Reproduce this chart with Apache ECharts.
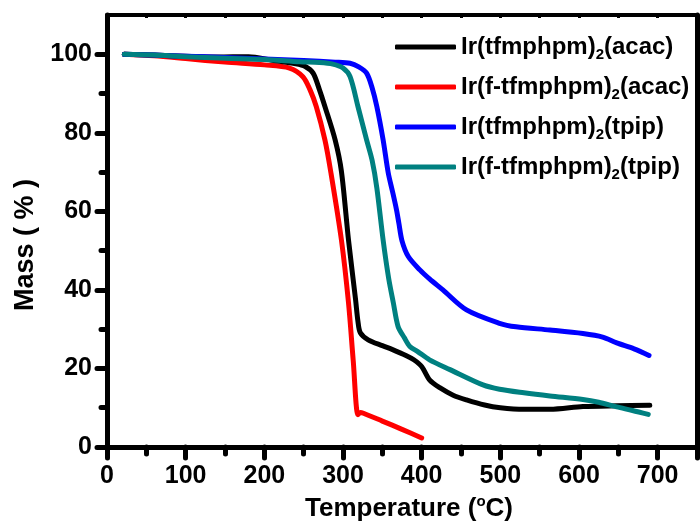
<!DOCTYPE html>
<html>
<head>
<meta charset="utf-8">
<script src="https://cdn.jsdelivr.net/npm/echarts@6/dist/echarts.min.js"></script>
<style>html,body{margin:0;padding:0;background:#fff}#c{width:700px;height:526px}</style>
</head>
<body>
<div id="c"></div>
<script>
// ---- data ----
const seriesNames = ['Ir(tfmphpm)2(acac)', 'Ir(f-tfmphpm)2(acac)', 'Ir(tfmphpm)2(tpip)', 'Ir(f-tfmphpm)2(tpip)'];
const xLabelTicks = [0, 100, 200, 300, 400, 500, 600, 700];
const xMajorTicks = [0, 100, 200, 300, 400, 500, 600, 700, 750];
const xMinorTicks = [50, 150, 250, 350, 450, 550, 650];
const yLabelTicks = [0, 20, 40, 60, 80, 100];
const yMinorTicks = [10, 30, 50, 70, 90];

const tempA = [22, 60, 100, 140, 180, 210, 240, 252, 262, 270, 277, 290, 298, 307, 316, 319, 322, 332, 350, 363, 380, 390, 400, 410, 423, 440, 457, 480, 500, 530, 563, 605, 648, 690];
const massA = [100, 99.8, 99.5, 99.3, 99.4, 98.5, 97.6, 96.9, 95.2, 91, 86.7, 78.2, 70.2, 52.7, 37.5, 32, 29.1, 27.3, 25.8, 24.8, 23.3, 22.2, 20.5, 17.1, 15.1, 13.2, 12, 10.7, 10, 9.6, 9.6, 10.3, 10.5, 10.6];

const tempB = [22, 60, 100, 150, 200, 232, 249, 258, 266, 277, 284.5, 298, 307, 313, 319, 322, 326, 350, 375, 400];
const massB = [100, 99.6, 98.9, 98, 97.3, 96.5, 94.3, 91, 86.7, 78.2, 70, 52.7, 36.7, 22, 8.2, 8.8, 8.6, 6.6, 4.5, 2.3];

const tempC = [22, 60, 100, 150, 200, 250, 290, 309, 320, 330, 337, 343, 351, 357.5, 363, 368, 371, 375, 383, 397.7, 410, 427, 457, 499, 520, 563, 605, 630, 648, 670, 689];
const massC = [100, 99.8, 99.5, 99.2, 98.8, 98.4, 98, 97.7, 96.8, 95.2, 91.5, 86.7, 78.2, 69.8, 65, 60.4, 57, 52.5, 48.5, 45.1, 42.8, 40, 34.9, 31.5, 30.6, 29.8, 28.9, 28, 26.5, 25, 23.3];

const tempD = [22, 60, 100, 150, 200, 245, 270, 287, 300, 309, 319, 330, 337, 343, 351, 358, 364, 370, 378, 385, 395, 410, 436, 478, 499, 530, 563, 605, 625, 648, 668, 688];
const massD = [100, 99.8, 99.4, 99, 98.7, 98.1, 97.9, 97.5, 96.5, 94.3, 86.7, 78.2, 73, 66, 52.7, 43, 36.7, 30.7, 27.8, 25.6, 24.3, 22.2, 19.7, 15.8, 14.7, 13.8, 13, 12.1, 11.4, 10.2, 9.3, 8.3];

const colors = ['#000000', '#ff0000', '#0000ff', '#008080'];

// ---- build ----
const zip = (xs, ys) => xs.map((x, i) => [x, ys[i]]);
const FONT = "'Liberation Sans', Arial, Helvetica, sans-serif";

function richName(n) {
  const i = n.indexOf(')2(');
  return '{a|' + n.slice(0, i + 1) + '}{s|2}{a|' + n.slice(i + 2) + '}';
}

const dataSets = [zip(tempA, massA), zip(tempB, massB), zip(tempC, massC), zip(tempD, massD)];
const drawOrder = [1, 0, 2, 3];

const series = drawOrder.map(k => ({
  name: seriesNames[k],
  type: 'line',
  data: dataSets[k],
  xAxisIndex: 0,
  yAxisIndex: 0,
  showSymbol: false,
  smooth: 0.3,
  color: colors[k],
  lineStyle: { width: 5, color: colors[k], cap: 'round', join: 'round' },
  z: 2 + drawOrder.indexOf(k),
  animation: false
}));

const axisLine = w => ({ show: true, onZero: false, lineStyle: { color: '#000', width: w, cap: 'round' } });
const XMIN = 0, XMAX = 750, YMIN = 0, YMAX = 110;

const option = {
  animation: false,
  grid: { left: 107, right: 3, top: 15, bottom: 79, outerBoundsMode: 'none' },
  legend: {
    orient: 'vertical',
    left: 390,
    top: 27,
    itemWidth: 61,
    itemHeight: 5,
    itemGap: 10,
    icon: 'roundRect',
    data: seriesNames,
    formatter: n => richName(n),
    textStyle: {
      lineHeight: 30,
      rich: {
        a: { fontFamily: FONT, fontWeight: 'bold', fontSize: 24, color: '#000', lineHeight: 30 },
        s: { fontFamily: FONT, fontWeight: 'bold', fontSize: 15, color: '#000', verticalAlign: 'bottom', lineHeight: 30, padding: [12, 0, 0, 0] }
      }
    }
  },
  xAxis: [
    {
      type: 'value', min: XMIN, max: XMAX, position: 'bottom',
      name: '{a|Temperature (}{s|o}{a|C)}',
      nameLocation: 'middle', nameGap: 47,
      nameTextStyle: {
        padding: [0, 0, 0, 14],
        rich: {
          a: { fontFamily: FONT, fontWeight: 'bold', fontSize: 26, color: '#000', lineHeight: 30 },
          s: { fontFamily: FONT, fontWeight: 'bold', fontSize: 15, color: '#000', verticalAlign: 'top', lineHeight: 30 }
        }
      },
      splitLine: { show: false },
      axisLine: axisLine(5),
      axisTick: { show: true, customValues: xMajorTicks, length: 11, lineStyle: { width: 5, color: '#000', cap: 'round' } },
      axisLabel: { customValues: xLabelTicks, margin: 17, fontFamily: FONT, fontWeight: 'bold', fontSize: 25, color: '#000' }
    },
    {
      type: 'value', min: XMIN, max: XMAX, position: 'bottom',
      splitLine: { show: false },
      axisLine: { show: false },
      axisTick: { show: true, customValues: xMinorTicks, length: 7, lineStyle: { width: 5, color: '#000', cap: 'round' } },
      axisLabel: { show: false }
    },
    {
      type: 'value', min: XMIN, max: XMAX, position: 'top',
      splitLine: { show: false },
      axisLine: axisLine(4),
      axisTick: { show: true, inside: true, customValues: xMajorTicks.concat(xMinorTicks), length: 3, lineStyle: { width: 3, color: '#000' } },
      axisLabel: { show: false }
    }
  ],
  yAxis: [
    {
      type: 'value', min: YMIN, max: YMAX, position: 'left',
      name: 'Mass ( % )',
      nameLocation: 'middle', nameGap: 58,
      nameTextStyle: { fontFamily: FONT, fontWeight: 'bold', fontSize: 27, color: '#000', padding: [0, 28, 0, 0] },
      splitLine: { show: false },
      axisLine: axisLine(5),
      axisTick: { show: true, customValues: yLabelTicks, length: 10, lineStyle: { width: 5, color: '#000', cap: 'round' } },
      axisLabel: { customValues: yLabelTicks, margin: 15, fontFamily: FONT, fontWeight: 'bold', fontSize: 25, color: '#000' }
    },
    {
      type: 'value', min: YMIN, max: YMAX, position: 'left',
      splitLine: { show: false },
      axisLine: { show: false },
      axisTick: { show: true, customValues: yMinorTicks, length: 6, lineStyle: { width: 5, color: '#000', cap: 'round' } },
      axisLabel: { show: false }
    },
    {
      type: 'value', min: YMIN, max: YMAX, position: 'right',
      splitLine: { show: false },
      axisLine: axisLine(5),
      axisTick: { show: false },
      axisLabel: { show: false }
    }
  ],
  series: series
};

const chart = echarts.init(document.getElementById('c'), null, { renderer: 'canvas' });
chart.setOption(option);
</script>
</body>
</html>
